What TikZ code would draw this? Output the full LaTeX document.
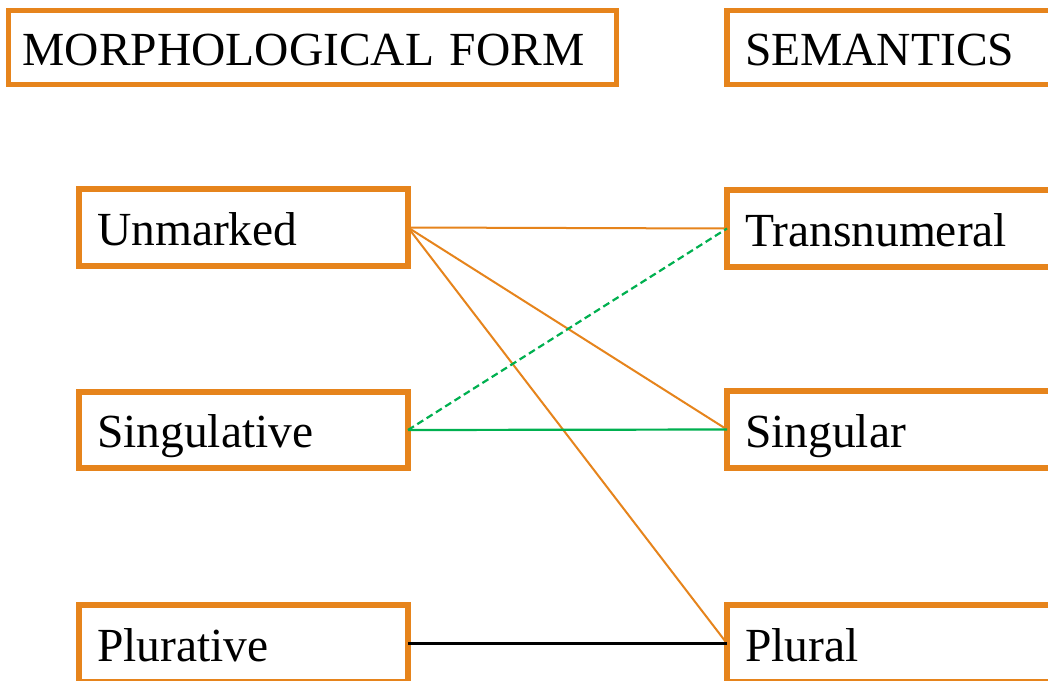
\documentclass[tikz,border=0pt]{standalone}
\usepackage{fontspec}
\setmainfont{Liberation Serif}
\definecolor{orng}{HTML}{E6841C}
\definecolor{grn}{HTML}{00B050}
\tikzset{
  box/.style={draw=orng, line width=5.5pt, inner xsep=18pt, inner ysep=0pt, outer sep=0pt,
    text height=35pt, text depth=0pt, minimum height=77pt, align=left, anchor=north west,
    font=\fontsize{47.5}{50}\selectfont},
  orline/.style={draw=orng, line width=2pt},
  grline/.style={draw=grn, line width=2.2pt},
  grdash/.style={grline, dash pattern=on 7pt off 4pt},
  blline/.style={draw=black, line width=2.5pt}
}
\begin{document}
\begin{tikzpicture}[x=1pt,y=-1pt]
\clip (0,0) rectangle (1048,680);
\fill[white] (0,0) rectangle (1048,680);
\node[box, inner xsep=14pt, text width=580pt, minimum height=74pt] (morph) at (8.5,10.5) {MORPHOLOGICAL FORM};
\node[box, text width=364pt, minimum height=74pt] (sem) at (727,10.5) {SEMANTICS};
\node[box, text width=293pt] (unm) at (79,189) {Unmarked};
\node[box, text width=364pt] (trans) at (727,190) {Transnumeral};
\node[box, text width=293pt, minimum height=76pt] (singv) at (79,392) {Singulative};
\node[box, text width=364pt] (sing) at (727,391) {Singular};
\node[box, text width=293pt] (plurv) at (79,605) {Plurative};
\node[box, text width=364pt] (plur) at (727,605) {Plural};
\draw[orline] (unm.east) -- (trans.west);
\draw[orline] (unm.east) -- (sing.west);
\draw[orline] (unm.east) -- (plur.west);
\draw[grdash] (singv.east) -- (trans.west);
\draw[grline] (singv.east) -- (sing.west);
\draw[blline] (plurv.east) -- (plur.west);
\end{tikzpicture}
\end{document}
